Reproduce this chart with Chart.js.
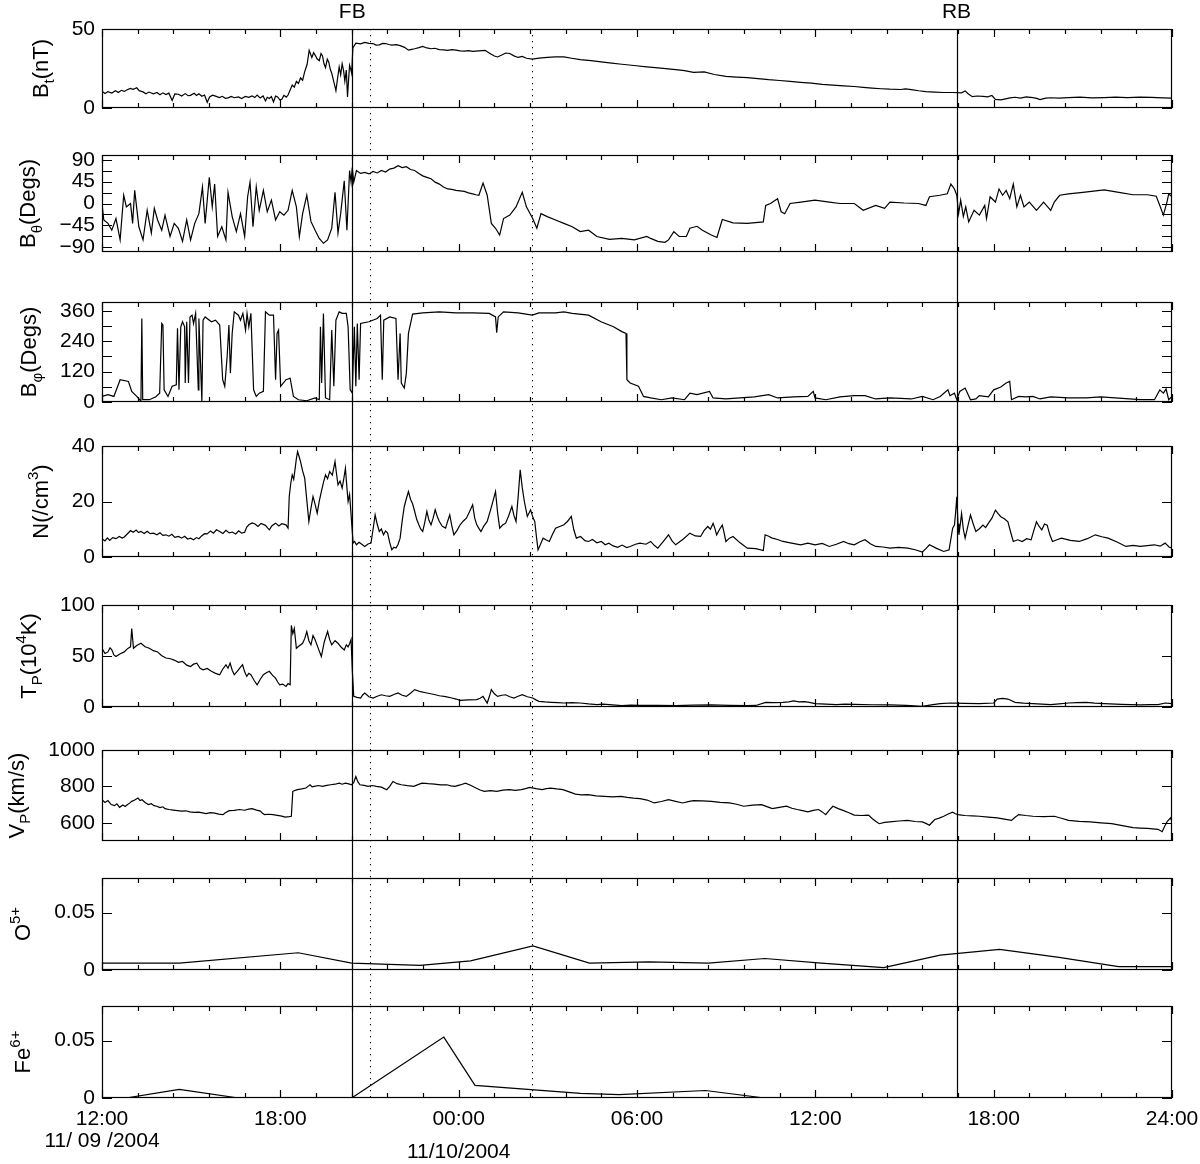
<!DOCTYPE html>
<html lang="en">
<head>
<meta charset="UTF-8">
<title>ICME boundaries FB / RB, 11/09-11/10/2004</title>
<script src="https://cdn.jsdelivr.net/npm/chart.js@4.4.1/dist/chart.umd.min.js"></script>
<style>
  body { margin: 0; background: #fff; }
  #fig { position: relative; width: 1200px; height: 1164px; overflow: hidden; }
  #fig canvas { position: absolute; left: 0; }
</style>
</head>
<body>
<div id="fig"></div>
<script>
// x is hours since 12:00 UT on 11/09/2004
const xTickHours = [0, 6, 12, 18, 24, 30, 36];
const xTickLabels = ['12:00', '18:00', '00:00', '06:00', '12:00', '18:00', '24:00'];
const xMinorStep = 1.2;   // 72 min between minor ticks
const boundaryNames = ['FB', 'RB'];
const boundaryHours = [8.42, 28.75];
const dottedHours = [9.02, 14.47];
const dateLabels = ['11/ 09 /2004', '11/10/2004'];
const dateHours = [0, 12];

// [hour, value] pairs
const btData = [[0,10.6],[0.1,9.2],[0.2,10.4],[0.33,9.5],[0.45,10.9],[0.55,9.8],[0.65,11.2],[0.75,10.5],[0.85,11.6],[0.95,12.4],[1.05,11.8],[1.17,12.8],[1.25,11.0],[1.38,10.2],[1.48,9.0],[1.58,10.1],[1.73,9.0],[1.85,9.8],[1.95,8.4],[2.05,9.6],[2.15,8.5],[2.25,9.4],[2.36,4.7],[2.45,8.9],[2.57,8.7],[2.68,7.6],[2.8,9.1],[2.9,7.8],[2.98,8.0],[3.1,9.3],[3.18,7.9],[3.26,9.0],[3.36,7.4],[3.45,8.2],[3.54,3.6],[3.62,7.0],[3.72,8.1],[3.82,7.5],[3.95,6.6],[4.05,7.4],[4.15,6.1],[4.24,6.4],[4.35,7.3],[4.45,6.5],[4.59,7.0],[4.7,6.0],[4.82,7.3],[4.94,6.8],[5.05,7.7],[5.14,6.6],[5.22,8.2],[5.32,6.4],[5.42,7.6],[5.5,4.5],[5.56,6.8],[5.63,6.0],[5.7,7.2],[5.77,3.8],[5.84,7.5],[5.91,7.0],[5.98,5.2],[6.05,5.5],[6.12,8.0],[6.2,6.9],[6.26,8.2],[6.4,14.5],[6.47,13.2],[6.54,16.8],[6.61,15.5],[6.68,19.0],[6.75,17.6],[6.82,23.0],[6.9,27.5],[6.97,36.5],[7.06,32.0],[7.12,35.0],[7.17,33.5],[7.24,31.0],[7.31,30.0],[7.37,34.5],[7.42,33.0],[7.47,28.0],[7.52,25.5],[7.58,31.0],[7.63,29.0],[7.68,24.5],[7.73,22.0],[7.8,16.5],[7.87,11.0],[7.92,18.0],[7.98,26.0],[8.03,21.0],[8.08,28.0],[8.13,23.5],[8.17,17.0],[8.22,24.0],[8.26,7.0],[8.3,19.0],[8.33,27.0],[8.37,24.5],[8.4,22.0],[8.44,38.0],[8.54,41.0],[8.7,40.6],[8.84,41.5],[8.98,40.9],[9.12,40.8],[9.22,39.8],[9.33,40.0],[9.44,40.9],[9.54,40.8],[9.65,40.2],[9.75,39.8],[9.9,40.1],[10.03,39.5],[10.18,38.4],[10.31,36.6],[10.42,37.1],[10.52,37.5],[10.66,38.2],[10.79,39.0],[10.93,38.0],[11.07,37.5],[11.2,37.8],[11.35,37.0],[11.5,36.8],[11.63,36.5],[11.77,36.9],[11.91,36.6],[12.05,36.2],[12.19,36.0],[12.33,36.3],[12.47,35.8],[12.68,36.2],[12.89,36.5],[13.0,35.2],[13.1,34.0],[13.2,32.9],[13.31,32.3],[13.45,33.5],[13.58,34.8],[13.72,34.5],[13.86,33.0],[14.0,32.0],[14.14,32.6],[14.28,31.5],[14.48,31.0],[14.7,31.6],[14.98,32.0],[15.26,32.4],[15.54,32.3],[15.8,31.5],[16.09,30.6],[16.45,30.0],[16.79,29.2],[17.15,28.4],[17.49,27.7],[17.9,26.9],[18.33,26.0],[18.8,25.2],[19.3,24.3],[19.6,23.6],[19.9,22.5],[20.26,22.8],[20.6,21.2],[20.99,20.0],[21.35,19.6],[21.71,19.2],[22.07,18.6],[22.43,17.9],[22.8,17.4],[23.15,16.8],[23.5,16.2],[23.87,15.7],[24.23,15.0],[24.59,14.5],[24.95,14.0],[25.31,13.6],[25.61,13.1],[25.91,12.6],[26.21,12.2],[26.51,11.9],[26.87,11.7],[27.03,12.1],[27.23,11.6],[27.48,10.9],[27.72,10.4],[28.02,10.1],[28.32,9.8],[28.62,9.8],[28.92,9.6],[29.04,10.8],[29.14,9.0],[29.28,7.2],[29.45,7.6],[29.64,7.4],[29.8,7.1],[29.94,7.9],[30.06,5.5],[30.24,5.1],[30.4,5.8],[30.55,6.4],[30.72,6.8],[30.9,6.3],[31.1,7.0],[31.32,6.6],[31.45,6.1],[31.56,5.3],[31.75,6.2],[31.92,6.5],[32.2,6.3],[32.52,6.6],[32.9,6.9],[33.3,6.4],[33.72,6.6],[34.1,6.9],[34.5,6.6],[34.93,6.9],[35.3,6.7],[35.7,6.4],[36,6.2]];

const bthetaData = [[0,0],[0.06,-34],[0.2,-41],[0.33,-55],[0.47,-31],[0.61,-75],[0.73,17],[0.82,-7],[0.96,0],[1.03,-41],[1.1,27],[1.24,-48],[1.38,-75],[1.52,-14],[1.66,-61],[1.76,-10],[1.87,-34],[2.01,-55],[2.12,-24],[2.29,-68],[2.43,-41],[2.57,-51],[2.71,-78],[2.85,-34],[2.98,-75],[3.12,-41],[3.26,-21],[3.38,34],[3.47,-41],[3.61,54],[3.71,-7],[3.79,40],[3.89,-68],[4.03,-48],[4.17,-75],[4.24,23],[4.38,-27],[4.52,-58],[4.66,-21],[4.8,-68],[4.9,14],[4.98,44],[5.08,-48],[5.19,34],[5.29,-14],[5.43,27],[5.56,-17],[5.7,7],[5.84,-34],[5.98,-17],[6.12,-24],[6.26,-14],[6.4,27],[6.54,-7],[6.64,-68],[6.75,-21],[6.89,17],[7.03,-37],[7.17,-55],[7.31,-72],[7.45,-82],[7.59,-75],[7.73,-51],[7.84,23],[7.94,-61],[8.03,-21],[8.15,47],[8.24,-55],[8.33,68],[8.38,44],[8.42,74],[8.47,44],[8.56,68],[8.7,62],[8.84,64],[8.98,61],[9.12,66],[9.26,63],[9.4,68],[9.54,65],[9.68,71],[9.82,73],[9.96,78],[10.1,74],[10.24,76],[10.38,70],[10.52,68],[10.66,62],[10.79,57],[10.93,54],[11.07,51],[11.21,44],[11.35,40],[11.49,34],[11.63,30],[11.77,29],[11.91,27],[12.05,26],[12.19,25],[12.33,22],[12.47,20],[12.58,18],[12.68,17],[12.82,42],[12.96,17],[13.1,-41],[13.24,-51],[13.38,-65],[13.51,-31],[13.72,-24],[13.93,-7],[14.14,23],[14.28,-7],[14.49,-31],[14.63,-51],[14.77,-21],[14.98,-27],[15.26,-34],[15.54,-41],[15.82,-48],[16.09,-58],[16.37,-55],[16.65,-68],[17.07,-74],[17.49,-72],[17.91,-75],[18.33,-68],[18.46,-72],[18.7,-78],[18.94,-80],[19.06,-75],[19.24,-58],[19.42,-68],[19.66,-68],[19.78,-51],[20.02,-47],[20.2,-55],[20.5,-65],[20.69,-70],[20.87,-33],[21.23,-40],[21.71,-41],[22.25,-38],[22.33,-4],[22.49,0],[22.73,10],[22.85,-17],[22.97,-21],[23.15,0],[23.51,3],[23.99,7],[24.47,3],[24.83,0],[25.31,0],[25.61,-14],[26.03,-4],[26.33,-10],[26.51,3],[26.99,1],[27.47,0],[27.72,-4],[27.84,14],[28.19,17],[28.44,20],[28.56,40],[28.68,30],[28.76,17],[28.82,-21],[28.89,7],[28.98,-27],[29.06,-7],[29.16,-38],[29.34,-14],[29.52,-24],[29.7,-4],[29.76,-31],[29.88,14],[30.06,3],[30.18,30],[30.3,17],[30.42,27],[30.54,10],[30.66,40],[30.78,-7],[30.9,17],[31.02,-7],[31.2,3],[31.44,-14],[31.68,3],[31.92,-14],[32.04,3],[32.22,17],[32.52,20],[33.0,23],[33.72,28],[34.21,23],[34.69,18],[35.17,18],[35.47,15],[35.59,-4],[35.71,-24],[35.83,3],[35.89,20],[36,14]];

const bphiData = [[0,22],[0.2,29],[0.4,22],[0.61,88],[0.89,81],[1.0,42],[1.17,22],[1.31,3],[1.34,330],[1.37,9],[1.59,9],[1.8,20],[1.94,35],[2.01,310],[2.05,304],[2.09,48],[2.22,22],[2.36,62],[2.5,68],[2.54,291],[2.59,48],[2.65,297],[2.71,317],[2.78,297],[2.8,75],[2.85,317],[2.91,75],[2.96,336],[3.03,343],[3.08,310],[3.15,350],[3.24,48],[3.26,330],[3.36,3],[3.4,323],[3.47,336],[3.68,317],[3.82,323],[3.96,304],[4.06,88],[4.13,62],[4.21,179],[4.27,304],[4.32,114],[4.38,271],[4.45,356],[4.59,343],[4.66,323],[4.74,350],[4.83,284],[4.88,350],[4.94,297],[5.01,350],[5.1,48],[5.19,22],[5.29,35],[5.43,42],[5.5,356],[5.63,343],[5.77,343],[5.84,88],[5.89,271],[5.94,284],[6.01,62],[6.19,88],[6.33,94],[6.44,22],[6.61,9],[6.89,5],[7.17,16],[7.31,9],[7.35,297],[7.39,75],[7.45,350],[7.52,16],[7.66,9],[7.73,284],[7.8,62],[7.87,323],[7.98,356],[8.08,350],[8.22,350],[8.28,297],[8.35,48],[8.42,35],[8.49,297],[8.54,62],[8.59,310],[8.65,88],[8.7,310],[8.98,317],[9.26,330],[9.37,343],[9.43,88],[9.48,323],[9.68,336],[9.89,330],[9.96,88],[10.03,271],[10.07,75],[10.17,55],[10.24,114],[10.31,271],[10.45,347],[10.79,352],[11.35,356],[11.91,352],[12.47,352],[13.03,350],[13.24,336],[13.28,274],[13.33,336],[13.51,356],[14.0,352],[14.48,343],[14.7,352],[15.26,352],[15.54,356],[15.82,350],[16.37,343],[16.79,317],[17.21,297],[17.49,278],[17.63,271],[17.66,88],[17.77,75],[18.05,62],[18.22,22],[18.46,16],[18.82,9],[19.18,16],[19.6,9],[19.78,35],[20.02,29],[20.44,42],[20.56,16],[20.99,12],[21.47,16],[21.95,20],[22.43,29],[22.73,16],[23.27,20],[23.75,22],[23.93,42],[23.99,16],[24.35,9],[24.83,20],[25.31,25],[25.67,25],[26.03,12],[26.51,16],[27.23,12],[27.6,22],[27.96,9],[28.2,22],[28.46,48],[28.53,25],[28.68,35],[28.76,9],[28.86,42],[29.04,55],[29.22,9],[29.4,12],[29.52,25],[29.82,20],[30.0,48],[30.24,59],[30.42,75],[30.54,81],[30.6,9],[30.84,22],[31.08,20],[31.32,22],[31.56,12],[31.92,20],[32.52,16],[33.12,16],[33.6,20],[34.33,14],[34.93,9],[35.41,9],[35.59,48],[35.71,35],[35.8,51],[35.89,9],[36,22]];

const densData = [[0,6.6],[0.1,5.8],[0.18,6.9],[0.26,6.0],[0.36,7.0],[0.47,6.6],[0.58,7.4],[0.68,6.8],[0.75,7.2],[0.85,8.3],[0.96,9.5],[1.05,8.9],[1.15,9.7],[1.23,8.8],[1.31,9.2],[1.42,8.5],[1.52,9.3],[1.62,8.4],[1.73,8.6],[1.85,8.0],[1.95,8.7],[2.05,7.8],[2.15,8.0],[2.25,7.5],[2.35,8.2],[2.45,7.1],[2.57,7.4],[2.68,6.8],[2.78,7.5],[2.88,6.5],[2.98,6.8],[3.08,6.2],[3.18,7.0],[3.26,6.6],[3.35,7.6],[3.45,8.4],[3.54,8.3],[3.65,9.4],[3.75,8.6],[3.85,9.8],[3.96,9.2],[4.07,8.5],[4.17,9.6],[4.28,8.7],[4.38,9.0],[4.5,8.3],[4.6,9.4],[4.7,8.6],[4.8,8.9],[4.87,10.8],[4.94,11.6],[5.05,12.3],[5.15,11.9],[5.25,11.0],[5.35,12.1],[5.5,11.4],[5.57,10.5],[5.63,9.8],[5.72,11.3],[5.84,12.2],[5.95,11.2],[6.05,12.0],[6.19,11.6],[6.26,10.4],[6.3,21.8],[6.35,26.5],[6.4,29.6],[6.45,28.0],[6.5,32],[6.54,35.5],[6.58,38],[6.63,36.2],[6.68,34.4],[6.75,31.0],[6.82,28.4],[6.89,20.5],[6.96,12.8],[7.03,17.5],[7.1,21.8],[7.17,19.0],[7.24,15.8],[7.31,20.1],[7.38,23.6],[7.45,26.8],[7.52,29.6],[7.59,28.2],[7.66,30.8],[7.75,29.5],[7.84,34.4],[7.89,30.0],[7.94,26],[8.01,27.4],[8.08,24.8],[8.14,28.5],[8.19,32],[8.24,25.0],[8.28,20],[8.33,22.5],[8.38,15.2],[8.42,9.2],[8.45,5],[8.5,5.6],[8.56,4.4],[8.65,5.3],[8.74,4.6],[8.84,3.8],[8.95,4.7],[9.05,5],[9.12,10.0],[9.19,15.2],[9.26,11.8],[9.33,9.2],[9.4,10.1],[9.47,8],[9.54,9.4],[9.61,8.6],[9.68,5.2],[9.75,2.6],[9.82,3.5],[9.89,3.2],[9.96,4.5],[10.03,6.8],[10.1,13.0],[10.17,18.2],[10.24,21.0],[10.31,23.6],[10.38,20.8],[10.45,19.2],[10.52,16.4],[10.59,13.5],[10.66,11.6],[10.72,10.1],[10.79,9.2],[10.86,12.5],[10.93,16.4],[11.0,13.2],[11.07,11.6],[11.14,14.0],[11.21,17],[11.28,14.6],[11.35,12.8],[11.45,11.1],[11.56,10.4],[11.63,12.9],[11.7,15.2],[11.77,11.2],[11.84,8],[11.94,9.5],[12.05,11.6],[12.15,12.9],[12.26,14],[12.36,16.2],[12.47,18.8],[12.54,14.0],[12.61,11.6],[12.68,10.3],[12.75,9.2],[12.85,11.2],[12.96,12.8],[13.1,18.0],[13.24,23.6],[13.31,16.0],[13.38,10.4],[13.48,11.5],[13.58,12.2],[13.68,14.8],[13.79,18.2],[13.86,15.0],[13.93,12.8],[14.0,21.5],[14.07,31.4],[14.14,25.0],[14.21,20],[14.31,14.6],[14.42,17],[14.5,14.2],[14.56,12.8],[14.62,7.0],[14.67,2.6],[14.75,4.5],[14.84,6.8],[14.95,6.1],[15.05,5.6],[15.15,8.0],[15.26,10.4],[15.4,11.0],[15.54,11.6],[15.66,12.8],[15.79,14.6],[15.87,10.0],[15.96,6.8],[16.1,7.4],[16.25,5.9],[16.37,5.6],[16.5,6.3],[16.65,5.1],[16.8,5.6],[16.93,4.4],[17.05,5.0],[17.2,4.0],[17.35,3.5],[17.5,4.3],[17.65,3.4],[17.77,3.8],[17.95,4.6],[18.1,5],[18.3,4.6],[18.46,5.6],[18.58,4.2],[18.7,3.2],[18.88,5.5],[19.06,8],[19.18,5.8],[19.3,4.4],[19.55,6.4],[19.78,8.6],[19.96,7.6],[20.14,7.4],[20.26,9.6],[20.38,11],[20.47,10.0],[20.56,12.1],[20.62,10.3],[20.68,8],[20.78,10.0],[20.87,11.5],[20.93,8.8],[20.99,5.6],[21.11,6.8],[21.23,7.4],[21.47,5.1],[21.71,3.2],[22.0,3.0],[22.25,2.3],[22.31,8],[22.43,7.5],[22.55,6.8],[22.73,6.3],[22.91,5.6],[23.2,5.0],[23.51,4.4],[23.75,5.0],[23.99,4.4],[24.23,4.9],[24.47,3.8],[24.71,4.6],[24.95,5.6],[25.13,4.8],[25.31,4.4],[25.5,5.5],[25.67,6.2],[25.85,4.8],[26.03,3.8],[26.27,3.6],[26.51,3.2],[26.8,3.5],[27.11,3.2],[27.36,2.6],[27.6,1.8],[27.72,3.0],[27.84,4.4],[28.08,3.1],[28.32,2],[28.5,2.6],[28.62,10.4],[28.68,11.5],[28.72,16.0],[28.76,21.7],[28.8,12.0],[28.83,8],[28.88,12.0],[28.92,15.7],[28.98,10.0],[29.04,6.8],[29.13,11.0],[29.22,15.1],[29.31,12.0],[29.4,9.2],[29.52,10.2],[29.64,11.5],[29.73,10.6],[29.82,12.1],[29.94,14.0],[30.06,16.9],[30.15,15.6],[30.24,14.5],[30.36,13.8],[30.48,12.7],[30.57,9.0],[30.66,5.6],[30.81,6.2],[30.96,5.6],[31.11,6.6],[31.26,6.2],[31.35,9.5],[31.44,12.7],[31.53,11.0],[31.62,9.8],[31.71,11.9],[31.8,11.5],[31.89,8.0],[31.98,5.6],[32.13,6.2],[32.28,6.8],[32.58,6.0],[32.88,5.6],[33.15,6.6],[33.42,8],[33.64,7.3],[33.85,6.8],[34.15,5.4],[34.45,3.8],[34.69,4.2],[34.93,3.8],[35.17,4.1],[35.41,4.4],[35.6,3.9],[35.77,5],[35.9,3.6],[36,3.2]];

const tempData = [[0,57.6],[0.1,52.5],[0.2,54],[0.27,58.0],[0.33,56],[0.4,51.0],[0.47,49.5],[0.6,52.0],[0.75,54],[0.85,57.0],[0.96,59],[1.0,77],[1.06,57.6],[1.18,60.5],[1.31,62.5],[1.45,59.0],[1.59,57.6],[1.73,55.2],[1.87,54],[2.0,50.5],[2.15,48],[2.3,47.3],[2.43,46],[2.57,43.8],[2.71,44.6],[2.85,41.0],[2.98,39.7],[3.08,42.0],[3.19,43],[3.3,38.0],[3.4,36.5],[3.54,37.8],[3.68,35],[3.82,33.0],[3.96,31.6],[4.06,37.0],[4.17,41.4],[4.24,38.0],[4.31,43],[4.38,36.0],[4.45,31.6],[4.52,34.0],[4.59,36.5],[4.66,39.0],[4.73,41.4],[4.8,34.5],[4.87,30],[4.94,33.0],[5.01,31.6],[5.12,26.0],[5.22,21.8],[5.32,27.0],[5.43,31.6],[5.53,33.5],[5.63,35],[5.74,31.0],[5.84,28.3],[5.91,24.5],[5.98,21.8],[6.08,22.5],[6.19,20.2],[6.26,22.9],[6.33,21.8],[6.37,80],[6.42,72.0],[6.47,77],[6.54,57.6],[6.64,60.0],[6.75,62.5],[6.82,67.0],[6.89,74],[6.96,65.0],[7.03,61],[7.1,70.0],[7.17,66],[7.27,58.0],[7.38,49.5],[7.48,64.0],[7.59,74],[7.66,66.0],[7.73,61],[7.84,65.0],[7.94,62.5],[8.05,58.5],[8.15,56],[8.22,61.0],[8.28,59],[8.33,62.0],[8.38,66],[8.42,36.5],[8.47,10.4],[8.58,9.5],[8.7,8.8],[8.77,11.8],[8.84,13.7],[8.98,10.0],[9.12,8.8],[9.26,10.5],[9.4,12],[9.54,11.0],[9.68,10.4],[9.82,12.2],[9.96,13.7],[10.1,11.5],[10.24,10.4],[10.38,13.5],[10.52,17],[10.72,15.0],[10.93,13.7],[11.14,12.5],[11.35,11],[11.56,10.2],[11.77,8.8],[11.91,7.8],[12.05,6.5],[12.33,7.0],[12.61,7.2],[12.72,8.5],[12.82,10.4],[12.89,7.0],[12.96,3.9],[13.03,10.0],[13.1,17],[13.2,13.0],[13.31,10.4],[13.45,11.5],[13.58,12],[13.72,10.0],[13.86,8.8],[14.0,10.5],[14.14,12],[14.31,10.0],[14.49,8.8],[14.6,7.0],[14.7,5.5],[14.9,5.0],[15.12,4.6],[15.33,4.2],[15.54,3.9],[15.8,4.2],[16.09,3.9],[16.37,3.0],[16.65,2.3],[16.86,2.8],[17.07,2.3],[17.28,1.8],[17.49,1.3],[17.8,1.9],[18.1,1.6],[18.7,1.7],[19.3,1.3],[19.9,1.9],[20.5,2],[21.1,1.6],[21.71,1.3],[22.0,1.5],[22.33,4.6],[22.6,4.3],[22.91,4.6],[23.1,5.0],[23.27,5.9],[23.45,5.0],[23.63,5.2],[23.8,4.5],[23.99,3.3],[24.35,2.8],[24.71,2.3],[25.0,2.8],[25.31,2.6],[25.9,2.2],[26.51,2],[27.05,1.6],[27.6,0.7],[27.9,2.0],[28.2,3.3],[28.56,3.9],[29.0,3.5],[29.52,3.3],[30.0,3.9],[30.12,7.8],[30.3,8.4],[30.48,7.8],[30.72,4.6],[31.0,3.8],[31.32,3.3],[31.62,2.9],[31.92,2.3],[32.2,3.1],[32.52,3.9],[32.8,4.2],[33.12,4.6],[33.4,3.8],[33.72,3.3],[34.3,2.5],[34.93,2],[35.25,2.4],[35.53,2.3],[35.77,3.9],[36,3.3]];

const speedData = [[0,727],[0.1,712],[0.2,722],[0.31,700],[0.42,694],[0.5,704],[0.59,685],[0.7,698],[0.78,690],[0.86,700],[0.93,708],[1.0,718],[1.1,725],[1.21,736],[1.28,722],[1.35,727],[1.45,712],[1.56,700],[1.66,705],[1.75,694],[1.84,691],[1.95,684],[2.05,688],[2.12,678],[2.25,673],[2.4,670],[2.54,667],[2.68,664],[2.82,666],[2.96,660],[3.1,657],[3.25,659],[3.38,655],[3.5,651],[3.65,656],[3.79,653],[3.93,648],[4.07,645],[4.15,655],[4.28,667],[4.45,668],[4.63,673],[4.8,669],[4.93,675],[5.05,678],[5.2,670],[5.33,664],[5.4,652],[5.47,645],[5.6,647],[5.75,645],[5.9,641],[6.05,637],[6.16,631],[6.3,634],[6.37,636],[6.42,773],[6.5,778],[6.58,782],[6.72,786],[6.86,791],[6.93,800],[7.0,809],[7.07,797],[7.14,800],[7.28,805],[7.42,800],[7.56,806],[7.7,809],[7.84,812],[7.98,818],[8.08,812],[8.19,818],[8.3,814],[8.4,809],[8.47,822],[8.54,855],[8.61,825],[8.68,809],[8.82,806],[8.95,800],[9.09,805],[9.23,800],[9.4,796],[9.58,782],[9.68,800],[9.79,827],[9.93,815],[10.07,809],[10.28,804],[10.49,800],[10.63,810],[10.77,818],[10.98,815],[11.19,813],[11.4,808],[11.6,809],[11.74,803],[11.88,800],[12.05,808],[12.23,818],[12.4,806],[12.58,791],[12.72,780],[12.86,773],[13.07,777],[13.28,773],[13.49,780],[13.7,782],[13.9,778],[14.11,782],[14.25,788],[14.39,795],[14.6,788],[14.81,782],[14.95,788],[15.09,791],[15.3,786],[15.51,782],[15.72,770],[15.93,758],[16.14,753],[16.35,755],[16.62,748],[16.9,745],[17.18,742],[17.46,745],[17.67,740],[17.88,736],[18.1,733],[18.34,725],[18.58,709],[18.82,717],[19.06,727],[19.3,718],[19.54,709],[19.72,716],[19.9,722],[20.2,720],[20.5,718],[20.8,712],[21.11,709],[21.35,702],[21.59,691],[21.89,697],[22.19,700],[22.37,689],[22.55,678],[22.79,685],[23.03,691],[23.21,680],[23.39,673],[23.57,667],[23.75,660],[23.93,668],[24.11,673],[24.23,660],[24.35,645],[24.47,670],[24.59,691],[24.77,678],[24.95,667],[25.13,655],[25.31,642],[25.55,640],[25.79,642],[25.91,624],[26.03,609],[26.15,595],[26.33,602],[26.51,605],[26.81,610],[27.11,613],[27.35,607],[27.6,605],[27.72,597],[27.84,587],[27.93,603],[28.02,618],[28.17,626],[28.32,636],[28.47,648],[28.62,658],[28.71,650],[28.8,645],[28.92,642],[29.04,640],[29.28,638],[29.52,636],[29.82,631],[30.12,627],[30.36,620],[30.6,613],[30.72,630],[30.84,645],[31.08,640],[31.32,636],[31.68,634],[32.04,636],[32.28,625],[32.52,613],[32.88,608],[33.25,605],[33.61,600],[33.97,595],[34.33,584],[34.69,573],[34.93,571],[35.17,569],[35.35,567],[35.53,564],[35.67,551],[35.75,580],[35.83,605],[35.95,627],[36,605]];

const oxyData = [[0,0.006],[2.6,0.006],[6.6,0.015],[8.4,0.006],[10.7,0.004],[12.4,0.008],[14.5,0.021],[16.4,0.006],[18.4,0.007],[20.4,0.006],[22.3,0.010],[24.2,0.006],[26.3,0.002],[28.2,0.013],[30.2,0.018],[32.2,0.011],[34.2,0.003],[36,0.003]];

const ironData = [[0,0],[0.8,0],[2.6,0.0075],[4.6,0],[8.4,0],[11.5,0.053],[12.55,0.011],[16.1,0.004],[17.4,0.003],[20.3,0.0065],[22.3,0],[36,0]];

// layout -----------------------------------------------------------------
const FONT = '"Liberation Sans", Arial, Helvetica, sans-serif';
const FIG_W = 1200, FIG_H = 1164;
const PLOT_LEFT = 102, PLOT_RIGHT = 1172;
const TICK_FONT = 21, TITLE_FONT = 22, TITLE_GAP = 24;

const panels = [
  { data: btData,     min: 0,    max: 50,   major: [0, 50],              minor: [],               title: [['B'], ['t', 'sub'], ['(nT)']],                    top: 29,   bottom: 108 },
  { data: bthetaData, min: -100, max: 100,  major: [-90, -45, 0, 45, 90], minor: [-67.5, -22.5, 22.5, 67.5], title: [['B'], ['θ', 'sub'], ['(Degs)']],  top: 155,  bottom: 252 },
  { data: bphiData,   min: 0,    max: 395,  major: [0, 120, 240, 360],   minor: [60, 180, 300],   title: [['B'], ['φ', 'sub'], ['(Degs)']],                  top: 302,  bottom: 402 },
  { data: densData,   min: 0,    max: 40,   major: [0, 20, 40],          minor: [],               title: [['N(/cm'], ['3', 'sup'], [')']],                   top: 446,  bottom: 557 },
  { data: tempData,   min: 0,    max: 100,  major: [0, 50, 100],         minor: [],               title: [['T'], ['P', 'sub'], ['(10'], ['4', 'sup'], ['K)']], top: 605, bottom: 707 },
  { data: speedData,  min: 500,  max: 1000, major: [600, 800, 1000],     minor: [],               title: [['V'], ['P', 'sub'], ['(km/s)']],                  top: 750,  bottom: 841 },
  { data: oxyData,    min: 0,    max: 0.08, major: [0, 0.05],            minor: [],               title: [['O'], ['5+', 'sup']],                             top: 878,  bottom: 970 },
  { data: ironData,   min: 0,    max: 0.08, major: [0, 0.05],            minor: [],               title: [['Fe'], ['6+', 'sup']],                            top: 1006, bottom: 1098 }
];

function fmtTick(v) {
  return v < 0 ? '\u2212' + Math.abs(v) : String(v);
}

function drawTitle(ctx, parts, xBase, yMid) {
  const big = TITLE_FONT, small = Math.round(TITLE_FONT * 0.68);
  const pieces = parts.map(([t, kind]) => {
    ctx.font = `${kind ? small : big}px ${FONT}`;
    return { t, kind, w: ctx.measureText(t).width };
  });
  const total = pieces.reduce((s, p) => s + p.w, 0);
  ctx.save();
  ctx.translate(xBase, yMid);
  ctx.rotate(-Math.PI / 2);
  ctx.fillStyle = '#000';
  ctx.textBaseline = 'alphabetic';
  ctx.textAlign = 'left';
  let cx = -total / 2;
  pieces.forEach(p => {
    ctx.font = `${p.kind ? small : big}px ${FONT}`;
    const dy = p.kind === 'sub' ? big * 0.28 : p.kind === 'sup' ? -big * 0.45 : 0;
    ctx.fillText(p.t, cx, dy);
    cx += p.w;
  });
  ctx.restore();
}

const panelDecor = {
  id: 'panelDecor',
  beforeDatasetsDraw(chart, args, opts) {
    const { ctx, chartArea: a } = chart;
    const x = chart.scales.x;
    const yEnd = opts.last ? a.bottom : chart.height;
    ctx.save();
    ctx.strokeStyle = '#000';
    ctx.lineWidth = 1.2;
    boundaryHours.forEach(h => {
      const px = Math.round(x.getPixelForValue(h)) + 0.5;
      ctx.beginPath(); ctx.moveTo(px, a.top); ctx.lineTo(px, yEnd); ctx.stroke();
    });
    ctx.lineWidth = 1;
    ctx.setLineDash([1.3, 4.7]);
    dottedHours.forEach(h => {
      const px = Math.round(x.getPixelForValue(h)) + 0.5;
      ctx.beginPath(); ctx.moveTo(px, a.top); ctx.lineTo(px, yEnd); ctx.stroke();
    });
    ctx.restore();
  },
  afterDatasetsDraw(chart, args, opts) {
    const { ctx, chartArea: a } = chart;
    const x = chart.scales.x, y = chart.scales.y;
    const p = panels[opts.index];
    ctx.save();
    ctx.strokeStyle = '#000';
    ctx.lineWidth = 1.2;
    ctx.strokeRect(a.left + 0.5, a.top + 0.5, a.right - a.left - 1, a.bottom - a.top - 1);
    ctx.beginPath();
    // x ticks, inward on top and bottom
    for (let h = 0; h <= 36 + 1e-6; h += xMinorStep) {
      const px = Math.round(x.getPixelForValue(h)) + 0.5;
      const major = xTickHours.some(t => Math.abs(t - h) < 1e-6);
      const len = major ? 8 : 5;
      ctx.moveTo(px, a.top); ctx.lineTo(px, a.top + len);
      ctx.moveTo(px, a.bottom); ctx.lineTo(px, a.bottom - len);
    }
    // y ticks, inward on left and right
    const yt = (v, len) => {
      const py = Math.round(y.getPixelForValue(v)) + 0.5;
      ctx.moveTo(a.left, py); ctx.lineTo(a.left + len, py);
      ctx.moveTo(a.right, py); ctx.lineTo(a.right - len, py);
    };
    p.major.forEach(v => yt(v, 10));
    p.minor.forEach(v => yt(v, 10));
    ctx.stroke();
    ctx.restore();
  },
  afterDraw(chart, args, opts) {
    const { ctx, chartArea: a } = chart;
    const x = chart.scales.x, y = chart.scales.y;
    const p = panels[opts.index];
    ctx.save();
    ctx.font = `${TICK_FONT}px ${FONT}`;
    const labelW = Math.max(...y.ticks.map(t => ctx.measureText(t.label).width));
    ctx.restore();
    drawTitle(ctx, p.title, a.left - 7 - labelW - TITLE_GAP, (a.top + a.bottom) / 2);

    ctx.save();
    ctx.fillStyle = '#000';
    ctx.font = `${TICK_FONT}px ${FONT}`;
    ctx.textAlign = 'center';
    ctx.textBaseline = 'middle';
    if (opts.index === 0) {
      boundaryNames.forEach((n, i) => ctx.fillText(n, x.getPixelForValue(boundaryHours[i]), a.top - 17));
    }
    if (opts.last) {
      ctx.fillText(dateLabels[0], x.getPixelForValue(dateHours[0]), a.bottom + 43);
      ctx.fillText(dateLabels[1], x.getPixelForValue(dateHours[1]), a.bottom + 54);
    }
    ctx.restore();
  }
};

const fig = document.getElementById('fig');
panels.forEach((p, i) => {
  const last = i === panels.length - 1;
  const canvasTop = i === 0 ? 0 : p.top - 22;
  const canvasBottom = last ? FIG_H : panels[i + 1].top;
  const h = canvasBottom - canvasTop;
  const xAxisH = last ? 40 : 0;

  const canvas = document.createElement('canvas');
  canvas.width = FIG_W;
  canvas.height = h;
  canvas.style.top = canvasTop + 'px';
  canvas.style.width = FIG_W + 'px';
  canvas.style.height = h + 'px';
  fig.appendChild(canvas);

  new Chart(canvas.getContext('2d'), {
    type: 'line',
    data: {
      datasets: [{
        data: p.data.map(([t, v]) => ({ x: t, y: v })),
        borderColor: '#000',
        borderWidth: 1.2,
        pointRadius: 0,
        tension: 0,
        fill: false
      }]
    },
    options: {
      responsive: false,
      animation: false,
      devicePixelRatio: 1,
      events: [],
      layout: {
        padding: { left: 0, right: FIG_W - PLOT_RIGHT, top: p.top - canvasTop, bottom: h - (p.bottom - canvasTop) - xAxisH }
      },
      plugins: {
        legend: { display: false },
        tooltip: { enabled: false },
        panelDecor: { index: i, last }
      },
      scales: {
        x: {
          type: 'linear',
          min: 0,
          max: 36,
          afterBuildTicks: axis => { axis.ticks = xTickHours.map(v => ({ value: v })); },
          afterFit: axis => { axis.height = xAxisH; axis.paddingLeft = 0; axis.paddingRight = 0; },
          grid: { display: false, drawTicks: false },
          border: { display: false },
          ticks: {
            display: last,
            autoSkip: false,
            maxRotation: 0,
            padding: 9,
            color: '#000',
            font: { family: FONT, size: TICK_FONT },
            callback: (v, idx) => xTickLabels[idx]
          }
        },
        y: {
          type: 'linear',
          min: p.min,
          max: p.max,
          afterBuildTicks: axis => { axis.ticks = p.major.map(v => ({ value: v })); },
          afterFit: axis => { axis.width = PLOT_LEFT; axis.paddingTop = 0; axis.paddingBottom = 0; },
          grid: { display: false, drawTicks: false },
          border: { display: false },
          ticks: {
            autoSkip: false,
            padding: 7,
            color: '#000',
            font: { family: FONT, size: TICK_FONT },
            callback: v => fmtTick(v)
          }
        }
      }
    },
    plugins: [panelDecor]
  });
});
</script>
</body>
</html>
